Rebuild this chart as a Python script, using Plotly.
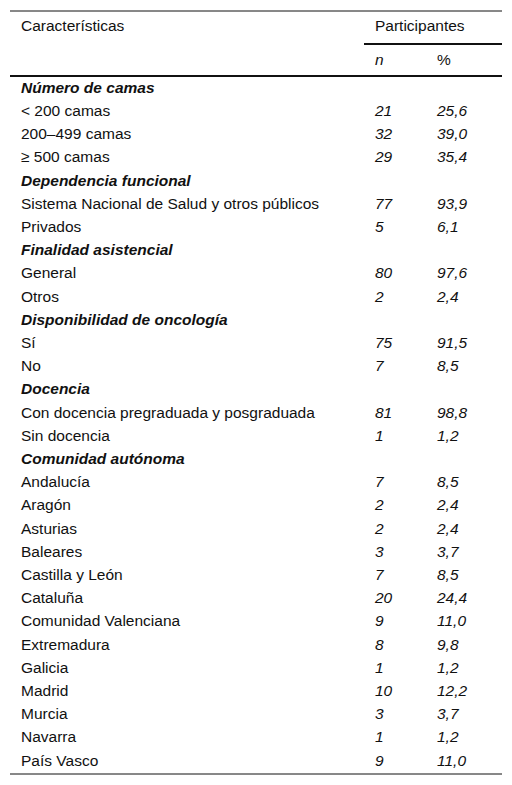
import plotly.graph_objects as go

# rows: (label, n, pct, is_section)
labels = ["Número de camas", "< 200 camas", "200–499 camas", "≥ 500 camas",
          "Dependencia funcional", "Sistema Nacional de Salud y otros públicos", "Privados",
          "Finalidad asistencial", "General", "Otros",
          "Disponibilidad de oncología", "Sí", "No",
          "Docencia", "Con docencia pregraduada y posgraduada", "Sin docencia",
          "Comunidad autónoma", "Andalucía", "Aragón", "Asturias", "Baleares",
          "Castilla y León", "Cataluña", "Comunidad Valenciana", "Extremadura",
          "Galicia", "Madrid", "Murcia", "Navarra", "País Vasco"]
n_vals = ["", "21", "32", "29", "", "77", "5", "", "80", "2", "", "75", "7", "",
          "81", "1", "", "7", "2", "2", "3", "7", "20", "9", "8", "1", "10", "3", "1", "9"]
pct_vals = ["", "25,6", "39,0", "35,4", "", "93,9", "6,1", "", "97,6", "2,4", "",
            "91,5", "8,5", "", "98,8", "1,2", "", "8,5", "2,4", "2,4", "3,7", "8,5",
            "24,4", "11,0", "9,8", "1,2", "12,2", "3,7", "1,2", "11,0"]
sections = {"Número de camas", "Dependencia funcional", "Finalidad asistencial",
            "Disponibilidad de oncología", "Docencia", "Comunidad autónoma"}

y0, dy = 89, 23.2
ys = [y0 + i * dy for i in range(len(labels))]
font = dict(family="Liberation Sans, Arial", size=15.5, color="#111")

fig = go.Figure()
fig.add_trace(go.Scatter(
    x=[21] * len(labels), y=ys, mode="text",
    text=[f"<b><i>{l}</i></b>" if l in sections else l for l in labels],
    textposition="middle right", textfont=font, hoverinfo="skip"))
fig.add_trace(go.Scatter(
    x=[375] * len(labels), y=ys, mode="text",
    text=[f"<i>{v}</i>" if v else "" for v in n_vals],
    textposition="middle right", textfont=font, hoverinfo="skip"))
fig.add_trace(go.Scatter(
    x=[437] * len(labels), y=ys, mode="text",
    text=[f"<i>{v}</i>" if v else "" for v in pct_vals],
    textposition="middle right", textfont=font, hoverinfo="skip"))
fig.add_trace(go.Scatter(
    x=[21, 375, 375, 437], y=[27, 27, 61, 61], mode="text",
    text=["Características", "Participantes", "<i>n</i>", "%"],
    textposition="middle right", textfont=font, hoverinfo="skip"))

line = lambda x0, x1, y, w: dict(type="line", x0=x0, x1=x1, y0=y, y1=y,
                                   line=dict(color="#111", width=w))
# page body adds an 8px offset, so the axes start at 8
fig.update_layout(
    width=504, height=777, margin=dict(l=0, r=0, t=0, b=0),
    paper_bgcolor="white", plot_bgcolor="white", showlegend=False,
    xaxis=dict(range=[8, 512], visible=False, fixedrange=True),
    yaxis=dict(range=[785, 8], visible=False, fixedrange=True),
    shapes=[line(10, 502, 11, 1), line(364, 502, 44, 2),
            line(10, 502, 76, 2), line(10, 502, 774, 1)])
fig.write_html("out.html")
